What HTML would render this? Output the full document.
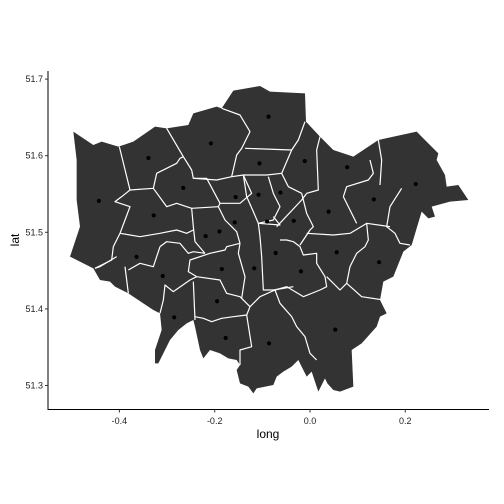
<!DOCTYPE html>
<html><head><meta charset="utf-8"><style>
html,body{margin:0;padding:0;background:#fff;}
svg{display:block;font-family:"Liberation Sans",sans-serif;}
</style></head><body>
<svg id="chart" width="504" height="504" viewBox="0 0 504 504">
<g transform="translate(40,60) scale(0.33333)">
<path fill="#333333" stroke="none" d="M580,92 L660,78 L690,95 L795,100 L798,185 L840,230 L880,270 L940,290 L1015,240 L1130,215 L1150,235 L1195,280 L1190,300 L1215,345 L1220,380 L1255,375 L1285,420 L1230,425 L1175,440 L1185,470 L1165,475 L1145,455 L1115,555 L1090,575 L1060,650 L1030,665 L1020,720 L1040,760 L1020,770 L1010,800 L965,850 L935,870 L940,980 L900,995 L880,990 L862,970 L855,955 L835,995 L815,935 L800,950 L775,900 L755,920 L730,935 L710,950 L700,975 L650,985 L640,1000 L625,980 L600,970 L590,930 L600,915 L590,900 L565,895 L540,880 L510,870 L490,895 L480,870 L465,800 L460,780 L440,790 L415,810 L390,840 L375,870 L355,910 L345,910 L345,870 L355,840 L365,810 L360,760 L340,750 L310,730 L265,700 L245,690 L225,680 L210,665 L180,660 L160,625 L90,590 L120,500 L110,420 L110,300 L100,215 L160,255 L185,245 L235,260 L280,245 L345,200 L380,205 L445,195 L460,160 L530,140 L545,145 Z"/>
<g id="borders" fill="none" stroke="#ffffff" stroke-width="3.6" stroke-linejoin="round"></g>
</g>
<g id="points"></g>
<g id="axes"></g>
</svg>
<script>
const lons=[-0.087,-0.208,-0.339,-0.106,-0.011,0.078,0.222,-0.443,-0.266,-0.156,-0.108,-0.062,-0.328,-0.158,-0.190,-0.219,-0.090,-0.034,0.039,0.134,-0.364,-0.309,-0.185,-0.117,-0.072,-0.019,0.056,0.145,-0.195,-0.285,-0.177,-0.086,0.053];
const lats=[51.651,51.616,51.597,51.590,51.593,51.585,51.563,51.541,51.558,51.546,51.549,51.552,51.522,51.513,51.501,51.495,51.514,51.515,51.527,51.543,51.468,51.443,51.452,51.453,51.473,51.449,51.474,51.461,51.410,51.389,51.362,51.355,51.373];
const xTicks=[-0.4,-0.2,0.0,0.2];
const xTickLabels=["-0.4","-0.2","0.0","0.2"];
const yTicks=[51.3,51.4,51.5,51.6,51.7];
const yTickLabels=["51.3","51.4","51.5","51.6","51.7"];
const NS="http://www.w3.org/2000/svg";
function sx(lon){return 310+476.5*lon;}
function sy(lat){return 232.3-766*(lat-51.5);}
const borders=[
"238,260 270,390 245,410 225,425 270,440 240,520 220,560 215,600 165,625",
"380,205 430,290 455,330 460,355 500,355 540,430 535,440",
"545,145 600,165 630,215 605,265 590,285 575,350",
"615,265 755,270",
"795,185 775,240 755,270 725,340 745,380 785,400",
"840,230 830,270 835,390 800,400",
"1015,240 1025,300 1020,375",
"990,300 1000,340 985,360 920,380 910,410",
"1085,385 1050,440 1040,500 1065,520 1080,550 1110,555",
"270,390 340,385 380,440 410,430 440,440 455,445",
"340,385 350,340 410,310 420,295 430,290",
"460,355 530,360 575,350 610,345 680,345 725,340",
"535,440 455,445 460,500 465,545 495,580",
"240,520 300,530 360,520 410,510 440,520 460,510",
"360,560 380,545 420,550 445,580 460,575 495,580",
"165,625 180,620 230,590",
"265,630 300,610 340,620 360,560",
"540,430 600,430 635,400 610,345",
"655,490 640,455 620,410 610,345",
"655,490 700,480 720,440 700,400 685,350",
"710,500 785,420 800,400",
"655,490 660,530 665,590 670,690 700,690 760,680",
"600,550 595,580 615,650 605,715",
"600,550 560,560 555,570 510,580 450,600 445,635 470,650",
"470,650 450,660 400,695 375,675 370,720 360,760",
"255,620 265,700",
"460,665 465,780",
"470,650 540,660 560,700 600,710 630,740 620,765 580,770 545,775 515,785 490,775 465,770",
"620,765 635,860 600,870 600,915",
"630,740 660,710 705,690 720,730 755,770 770,800 795,830 810,880 830,900",
"705,690 740,680 790,710 840,690 860,680 855,650 830,610 830,580 790,585 780,560 760,545 740,540 720,540",
"785,400 800,460 820,500 810,510 780,555",
"800,520 880,525 930,520 980,490 1050,500",
"980,490 985,540 975,560 950,580 930,620 920,670 965,710 1030,720",
"920,670 900,690 860,650",
"910,410 950,490",
"655,490 720,495 700,470",
"535,440 555,480 590,515 600,550"];
const bg=document.getElementById('borders');
borders.forEach(p=>{const l=document.createElementNS(NS,'polyline');l.setAttribute('points',p);


bg.appendChild(l);});
const pg=document.getElementById('points');
lons.forEach((lo,i)=>{const c=document.createElementNS(NS,'circle');
c.setAttribute('cx',sx(lo));c.setAttribute('cy',sy(lats[i]));c.setAttribute('r',2.1);c.setAttribute('fill','#000');


pg.appendChild(c);});
const ax=document.getElementById('axes');
function mk(tag,attrs,txt){const e=document.createElementNS(NS,tag);for(const k in attrs)e.setAttribute(k,attrs[k]);if(txt!==undefined)e.textContent=txt;ax.appendChild(e);return e;}
let e;
e=mk('line',{x1:48,y1:71,x2:48,y2:409.5,stroke:'#000','stroke-width':1});


e=mk('line',{x1:47.5,y1:409.5,x2:489,y2:409.5,stroke:'#000','stroke-width':1});


xTicks.forEach((t,i)=>{const x=sx(t);
e=mk('line',{x1:x,y1:409.5,x2:x,y2:412.5,stroke:'#333'});


e=mk('text',{x:x,y:424,'font-size':9,'text-anchor':'middle',fill:'#222'},xTickLabels[i]);

});
yTicks.forEach((t,i)=>{const y=sy(t);
e=mk('line',{x1:45,y1:y,x2:48,y2:y,stroke:'#333'});


e=mk('text',{x:43,y:y+3,'font-size':9,'text-anchor':'end',fill:'#222'},yTickLabels[i]);

});
e=mk('text',{x:268,y:438,'font-size':12,'text-anchor':'middle',fill:'#000'},'long');


e=mk('text',{x:19,y:240,'font-size':12,'text-anchor':'middle',fill:'#000',transform:'rotate(-90 19 240)'},'lat');


</script>
</body></html>
